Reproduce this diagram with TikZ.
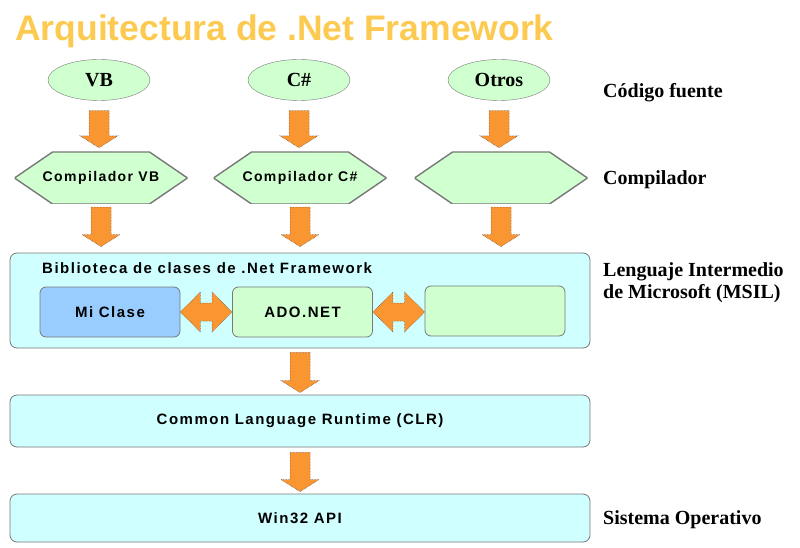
\documentclass[tikz,border=0pt]{standalone}
\usepackage{fontspec}
\setmainfont{Liberation Serif}
\newfontfamily\boxfont[LetterSpace=10]{Liberation Sans}
\newfontfamily\titlefont{Liberation Sans}
\usetikzlibrary{shapes.geometric,calc}

\definecolor{titleorange}{RGB}{252,202,80}
\definecolor{srcgreen}{RGB}{208,255,208}
\definecolor{layercyan}{RGB}{208,255,255}
\definecolor{myblue}{RGB}{153,204,255}
\definecolor{edgegray}{RGB}{120,120,120}
\definecolor{arroworange}{RGB}{250,150,50}
\definecolor{arrowedge}{RGB}{80,70,60}

\begin{document}
\begin{tikzpicture}[x=1pt,y=1pt,
    lang/.style={ellipse, draw=edgegray, fill=srcgreen, minimum width=102pt, minimum height=41pt, font=\fontsize{20}{22}\selectfont\bfseries},
    comp/.style={rectangle, inner sep=0pt, minimum width=173pt, minimum height=52pt, font=\boxfont\bfseries\fontsize{14}{16}\selectfont,
        path picture={\draw[fill=srcgreen, draw=edgegray, line width=1.4pt]
            (path picture bounding box.west) -- ([xshift=38pt]path picture bounding box.north west)
            -- ([xshift=-38pt]path picture bounding box.north east) -- (path picture bounding box.east)
            -- ([xshift=-38pt]path picture bounding box.south east) -- ([xshift=38pt]path picture bounding box.south west) -- cycle;}},
    layer/.style={draw=edgegray, fill=layercyan, line width=0.8pt, rounded corners=7pt, minimum width=580pt, font=\boxfont\bfseries\fontsize{15}{18}\selectfont},
    part/.style={draw=edgegray, fill=srcgreen, line width=0.8pt, rounded corners=6pt, minimum width=140pt, minimum height=50pt, font=\boxfont\bfseries\fontsize{15}{18}\selectfont},
    side/.style={anchor=west, align=left, inner sep=0pt, font=\fontsize{20}{22}\selectfont\bfseries},
    blockdown/.style 2 args={fill=arroworange, draw=arrowedge, densely dotted, line width=0.5pt,
        to path={let \p1=(\tikztostart), \p2=(\tikztotarget) in
            (\x1-10pt,\y1-#1) -- (\x1+10pt,\y1-#1) -- (\x1+10pt,\y2+#2+12pt) -- (\x1+19pt,\y2+#2+12pt)
            -- (\x1,\y2+#2) -- (\x1-19pt,\y2+#2+12pt) -- (\x1-10pt,\y2+#2+12pt) -- cycle}},
    blockboth/.style={fill=arroworange, draw=arrowedge, densely dotted, line width=0.5pt,
        to path={let \p1=(\tikztostart), \p2=(\tikztotarget) in
            (\x1,\y1) -- (\x1+20pt,\y1+20pt) -- (\x1+20pt,\y1+9pt) -- (\x2-20pt,\y1+9pt) -- (\x2-20pt,\y1+20pt)
            -- (\x2,\y1) -- (\x2-20pt,\y1-20pt) -- (\x2-20pt,\y1-9pt) -- (\x1+20pt,\y1-9pt) -- (\x1+20pt,\y1-20pt) -- cycle}}
]
    \useasboundingbox (0,0) rectangle (800,-548);

    \node[anchor=base west, inner sep=0pt, text=titleorange, font=\titlefont\bfseries\fontsize{35.5}{40}\selectfont] (title) at (15,-41) {Arquitectura de .Net Framework};

    % source languages and compilers
    \node[lang] (vb) at (99,-80) {VB};
    \node[lang] (cs) at (299,-80) {C\#};
    \node[lang] (otros) at (499,-80) {Otros};
    \node[comp] (compvb) at (101,-178) {Compilador VB};
    \node[comp] (compcs) at (300,-178) {Compilador C\#};
    \node[comp] (compotros) at (501,-178) {};

    % class library
    \node[layer, minimum height=95pt] (lib) at (300,-300.5) {};
    \node[anchor=west, inner sep=0pt, font=\boxfont\bfseries\fontsize{15}{18}\selectfont] (libtitle) at (42,-268) {Biblioteca de clases de .Net Framework};
    \node[part, fill=myblue] (miclase) at (110,-312) {Mi Clase};
    \node[part] (ado) at (302.5,-312) {ADO.NET};
    \node[part] (otraclase) at (495,-311) {};

    \node[layer, minimum height=52pt] (clr) at (300,-421) {Common Language Runtime (CLR)};
    \node[layer, minimum height=48pt] (win) at (300,-518) {Win32 API};

    % labels on the right
    \node[side] (srclbl) at (603,-93) {Código fuente};
    \node[side] (complbl) at (603,-180) {Compilador};
    \node[side] (msillbl) at (603,-283) {Lenguaje Intermedio\\de Microsoft (MSIL)};
    \node[side] (oslbl) at (603,-520) {Sistema Operativo};

    % arrows
    \draw[blockdown={10pt}{4pt}] (vb.south) to (compvb.north);
    \draw[blockdown={10pt}{4pt}] (cs.south) to (compcs.north);
    \draw[blockdown={10pt}{4pt}] (otros.south) to (compotros.north);
    \draw[blockdown={3pt}{6pt}] (compvb.south) to (compvb.south |- lib.north);
    \draw[blockdown={3pt}{6pt}] (compcs.south) to (compcs.south |- lib.north);
    \draw[blockdown={3pt}{6pt}] (compotros.south) to (compotros.south |- lib.north);
    \draw[blockboth] (miclase.east) to (ado.west);
    \draw[blockboth] (ado.east) to (otraclase.west);
    \draw[blockdown={4pt}{2pt}] (lib.south) to (clr.north);
    \draw[blockdown={5pt}{2pt}] (clr.south) to (win.north);
\end{tikzpicture}
\end{document}
